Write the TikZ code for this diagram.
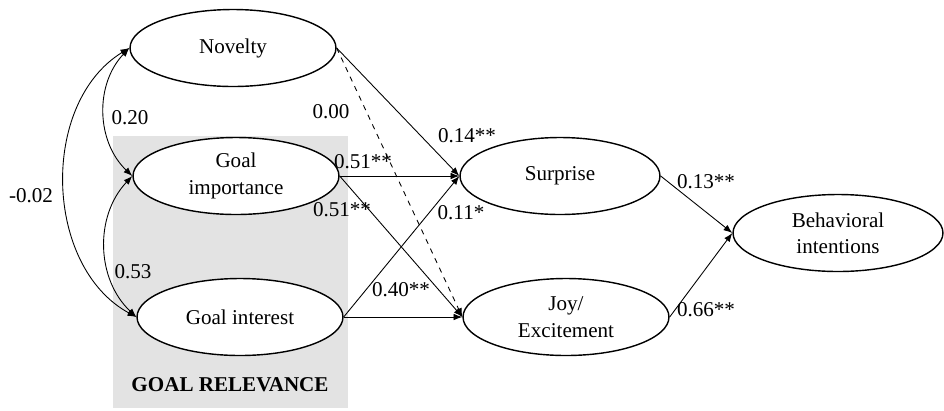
\documentclass[tikz,border=0pt]{standalone}
\usepackage{fontspec}
\setmainfont{Liberation Serif}
\usetikzlibrary{positioning,shapes.geometric,arrows.meta}

\begin{document}
\begin{tikzpicture}[x=0.02cm,y=-0.02cm,font=\fontsize{12}{15}\selectfont,>={Latex[length=5pt,width=3.8pt]},
  latent/.style={draw,ellipse,fill=white,line width=0.8pt,minimum width=4.12cm,minimum height=1.54cm,inner sep=0pt,align=center},
  effect/.style={->,line width=0.5pt},
  corr/.style={<->,line width=0.5pt},
  coef/.style={inner sep=1pt}]
\useasboundingbox (0,0) rectangle (944,410);
\fill[black!11] (113,136) rectangle (348,408);
\node[font=\fontsize{12}{15}\selectfont\bfseries] (rel) at (230,385) {GOAL RELEVANCE};

\node[latent] (Nov) at (233,48) {Novelty};
\node[latent] (Imp) at (236,176) {Goal\\importance};
\node[latent] (Int) at (240,317) {Goal interest};
\node[latent, minimum width=4.0cm] (Sur) at (560,176) {Surprise};
\node[latent] (Joy) at (566,317) {Joy/\\Excitement};
\node[latent, minimum width=4.2cm] (Beh) at (838,233) {Behavioral\\intentions};

\foreach \i/\j in {Nov/Sur,Imp/Sur,Int/Sur,Imp/Joy,Int/Joy,Sur/Beh,Joy/Beh} {
  \draw[effect] (\i.east) -- (\j.west);
}
\draw[effect,dashed] (Nov.east) -- (Joy.west);
% correlations
\draw[corr] (Nov.west) to[bend right=45] (Imp.west);
\draw[corr] (Imp.west) to[bend right=45] (Int.west);
\draw[corr] (Nov.west) to[bend right=60] (Int.west);

% coefficients
\node[coef] (cNovImp) at (130,118) {0.20};
\node[coef] (cImpInt) at (133,272) {0.53};
\node[coef] (cNovInt) at (31,196) {-0.02};
\node[coef] (cNovJoy) at (331,112) {0.00};
\node[coef] (cNovSur) at (467,136) {0.14**};
\node[coef] (cImpSur) at (363,162) {0.51**};
\node[coef] (cImpJoy) at (342,210) {0.51**};
\node[coef] (cIntSur) at (461,213) {0.11*};
\node[coef] (cIntJoy) at (401,290) {0.40**};
\node[coef] (cSurBeh) at (706,182) {0.13**};
\node[coef] (cJoyBeh) at (706,310) {0.66**};
\end{tikzpicture}
\end{document}
